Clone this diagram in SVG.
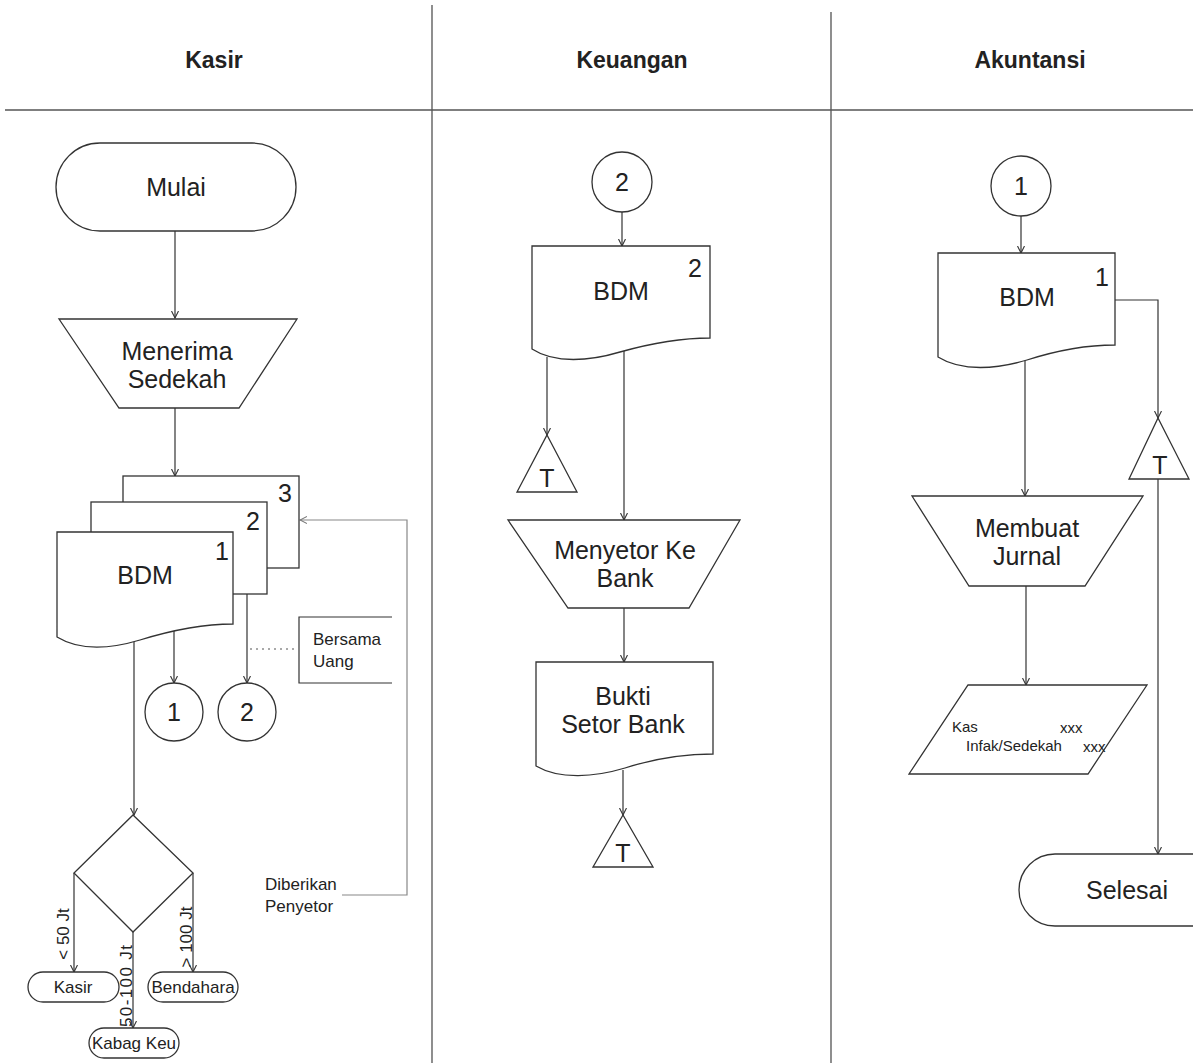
<svg xmlns="http://www.w3.org/2000/svg" width="1193" height="1063" viewBox="0 0 1193 1063">
  <defs>
    <marker id="arr" viewBox="0 0 8 8" refX="7" refY="4" markerWidth="8" markerHeight="8" orient="auto" markerUnits="userSpaceOnUse">
      <path d="M0,0.5 L7,4 L0,7.5" fill="none" stroke="#333" stroke-width="1.1"/>
    </marker>
    <marker id="arrg" viewBox="0 0 8 8" refX="7" refY="4" markerWidth="8" markerHeight="8" orient="auto" markerUnits="userSpaceOnUse">
      <path d="M0,0.5 L7,4 L0,7.5" fill="none" stroke="#777" stroke-width="1.1"/>
    </marker>
  </defs>
  <style>
    .shape { fill: #fff; stroke: #333; stroke-width: 1.3; }
    .line { fill: none; stroke: #333; stroke-width: 1.2; }
    .grey { fill: none; stroke: #888; stroke-width: 1.2; }
    .lane { fill: none; stroke: #444; stroke-width: 1.2; }
    .t { font-family: "Liberation Sans", Arial, sans-serif; fill: #222; }
    .big { font-size: 25px; text-anchor: middle; }
    .head { font-size: 23px; font-weight: bold; text-anchor: middle; }
    .mid { font-size: 17px; }
    .sm { font-size: 15px; }
  </style>
  <rect width="1193" height="1063" fill="#fff"/>

  <!-- swimlanes -->
  <g id="lanes">
    <line class="lane" x1="432" y1="5" x2="432" y2="1063"/>
    <line class="lane" x1="831" y1="12" x2="831" y2="1063"/>
    <line x1="5" y1="110" x2="1193" y2="110" stroke="#555" stroke-width="1.6"/>
    <text class="t head" x="214" y="68">Kasir</text>
    <text class="t head" x="632" y="68">Keuangan</text>
    <text class="t head" x="1030" y="68">Akuntansi</text>
  </g>

  <!-- connectors -->
  <g id="connectors">
    <line class="line" x1="175" y1="231" x2="175" y2="318" marker-end="url(#arr)"/>
    <line class="line" x1="175" y1="408" x2="175" y2="476" marker-end="url(#arr)"/>
    <line class="line" x1="174" y1="629" x2="174" y2="683" marker-end="url(#arr)"/>
    <line class="line" x1="247" y1="594" x2="247" y2="683" marker-end="url(#arr)"/>
    <line x1="250" y1="649" x2="297" y2="649" stroke="#555" stroke-width="1.2" stroke-dasharray="2,4"/>
    <line class="line" x1="134" y1="642" x2="134" y2="815" marker-end="url(#arr)"/>
    <line class="line" x1="74" y1="873" x2="74" y2="972" marker-end="url(#arr)"/>
    <line class="line" x1="193" y1="873" x2="193" y2="972" marker-end="url(#arr)"/>
    <line class="line" x1="133" y1="932" x2="133" y2="1028" marker-end="url(#arr)"/>
    <path class="grey" d="M342,895 H407 V520 H300" marker-end="url(#arrg)"/>

    <line class="line" x1="622" y1="212" x2="622" y2="246" marker-end="url(#arr)"/>
    <line class="line" x1="547" y1="357" x2="547" y2="435" marker-end="url(#arr)"/>
    <line class="line" x1="624" y1="350" x2="624" y2="520" marker-end="url(#arr)"/>
    <line class="line" x1="624" y1="608" x2="624" y2="662" marker-end="url(#arr)"/>
    <line class="line" x1="623" y1="770" x2="623" y2="815" marker-end="url(#arr)"/>

    <line class="line" x1="1021" y1="216" x2="1021" y2="253" marker-end="url(#arr)"/>
    <path class="line" d="M1115,300 H1158 V418" marker-end="url(#arr)"/>
    <line class="line" x1="1158" y1="479" x2="1158" y2="854" marker-end="url(#arr)"/>
    <line class="line" x1="1025" y1="361" x2="1025" y2="496" marker-end="url(#arr)"/>
    <line class="line" x1="1026" y1="586" x2="1026" y2="685" marker-end="url(#arr)"/>
  </g>

  <!-- Kasir lane -->
  <g id="mulai">
    <rect class="shape" x="56" y="143" width="240" height="88" rx="44"/>
    <text class="t big" x="176" y="196">Mulai</text>
  </g>
  <g id="menerima-sedekah">
    <polygon class="shape" points="59,319 297,319 239,408 119,408"/>
    <text class="t big" x="177" y="360">Menerima</text>
    <text class="t big" x="177" y="388">Sedekah</text>
  </g>
  <g id="bdm-kasir">
    <rect class="shape" x="123" y="476" width="176" height="92"/>
    <text class="t big" x="285" y="502">3</text>
    <rect class="shape" x="91" y="502" width="176" height="92"/>
    <text class="t big" x="253" y="530">2</text>
    <path class="shape" d="M57,532 H233 V624 C198,624 166,632 140,640 C110,649 80,651 57,637 Z"/>
    <text class="t big" x="222" y="560">1</text>
    <text class="t big" x="145" y="584">BDM</text>
  </g>
  <g id="bersama-uang">
    <path class="line" d="M392,617 H299 V683 H392"/>
    <text class="t mid" x="313" y="645">Bersama</text>
    <text class="t mid" x="313" y="667">Uang</text>
  </g>
  <g id="konektor-1-kasir">
    <circle class="shape" cx="174" cy="712" r="29"/>
    <text class="t big" x="174" y="721">1</text>
  </g>
  <g id="konektor-2-kasir">
    <circle class="shape" cx="247" cy="712" r="29"/>
    <text class="t big" x="247" y="721">2</text>
  </g>
  <g id="keputusan">
    <polygon class="shape" points="133,815 193,873 133,932 74,873"/>
  </g>
  <g id="label-cabang">
    <text class="t mid" text-anchor="middle" transform="translate(69,934) rotate(-90)">&lt; 50 Jt</text>
    <text class="t mid" text-anchor="middle" transform="translate(132,986) rotate(-90)" textLength="82">50-100 Jt</text>
    <text class="t mid" text-anchor="middle" transform="translate(192,937) rotate(-90)">&gt; 100 Jt</text>
  </g>
  <g id="kasir-tujuan">
    <rect class="shape" x="28" y="972" width="91" height="30" rx="15"/>
    <text class="t mid" x="73" y="993" text-anchor="middle">Kasir</text>
  </g>
  <g id="bendahara">
    <rect class="shape" x="148" y="972" width="90" height="30" rx="15"/>
    <text class="t mid" x="193" y="993" text-anchor="middle">Bendahara</text>
  </g>
  <g id="kabag-keu">
    <rect class="shape" x="89" y="1028" width="90" height="30" rx="15"/>
    <text class="t mid" x="134" y="1049" text-anchor="middle">Kabag Keu</text>
  </g>
  <g id="diberikan-penyetor">
    <text class="t mid" x="265" y="890">Diberikan</text>
    <text class="t mid" x="265" y="912">Penyetor</text>
  </g>

  <!-- Keuangan lane -->
  <g id="konektor-2-keuangan">
    <circle class="shape" cx="622" cy="182" r="30"/>
    <text class="t big" x="622" y="191">2</text>
  </g>
  <g id="bdm-keuangan">
    <path class="shape" d="M532,246 H710 V338 C675,338 645,345 620,352 C590,361 555,364 532,349 Z"/>
    <text class="t big" x="695" y="277">2</text>
    <text class="t big" x="621" y="300">BDM</text>
  </g>
  <g id="arsip-bdm-keuangan">
    <polygon class="shape" points="547,435 577,492 517,492"/>
    <text class="t big" x="547" y="487">T</text>
  </g>
  <g id="menyetor-ke-bank">
    <polygon class="shape" points="508,520 740,520 689,608 568,608"/>
    <text class="t big" x="625" y="559">Menyetor Ke</text>
    <text class="t big" x="625" y="587">Bank</text>
  </g>
  <g id="bukti-setor-bank">
    <path class="shape" d="M536,662 H713 V754 C678,754 650,760 625,768 C595,777 560,780 536,766 Z"/>
    <text class="t big" x="623" y="705">Bukti</text>
    <text class="t big" x="623" y="733">Setor Bank</text>
  </g>
  <g id="arsip-bukti">
    <polygon class="shape" points="623,815 653,867 593,867"/>
    <text class="t big" x="623" y="862">T</text>
  </g>

  <!-- Akuntansi lane -->
  <g id="konektor-1-akuntansi">
    <circle class="shape" cx="1021" cy="186" r="30"/>
    <text class="t big" x="1021" y="195">1</text>
  </g>
  <g id="bdm-akuntansi">
    <path class="shape" d="M938,253 H1115 V345 C1080,345 1052,352 1027,360 C997,369 962,372 938,357 Z"/>
    <text class="t big" x="1102" y="286">1</text>
    <text class="t big" x="1027" y="306">BDM</text>
  </g>
  <g id="arsip-bdm-akuntansi">
    <polygon class="shape" points="1158,418 1189,479 1129,479"/>
    <text class="t big" x="1160" y="474">T</text>
  </g>
  <g id="membuat-jurnal">
    <polygon class="shape" points="912,496 1143,496 1085,586 969,586"/>
    <text class="t big" x="1027" y="537">Membuat</text>
    <text class="t big" x="1027" y="565">Jurnal</text>
  </g>
  <g id="jurnal">
    <polygon class="shape" points="968,685 1147,685 1088,774 909,774"/>
    <text class="t sm" x="952" y="732">Kas</text>
    <text class="t sm" x="1060" y="733">xxx</text>
    <text class="t sm" x="966" y="751">Infak/Sedekah</text>
    <text class="t sm" x="1083" y="752">xxx</text>
  </g>
  <g id="selesai">
    <rect class="shape" x="1019" y="854" width="220" height="72" rx="36"/>
    <text class="t big" x="1127" y="899" font-size="22px" text-anchor="middle">Selesai</text>
  </g>
</svg>
